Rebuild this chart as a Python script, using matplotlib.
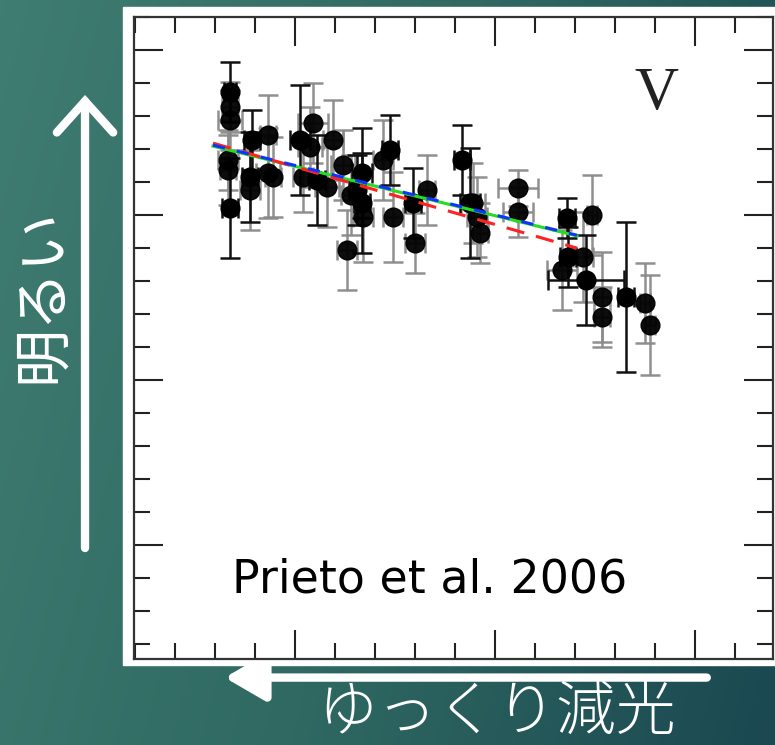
import matplotlib.pyplot as plt
import matplotlib.patches as mpatches
from matplotlib.colors import LinearSegmentedColormap
import numpy as np

# datos (dias, magnitud V)
x_black = [23.75, 23.75, 29.25, 28.75, 41.25, 45.5, 56.75, 56.75, 63.75, 69.5,
           81.75, 83.75, 108.0, 108.25, 112.75, 122.75, 55.5]
y_black = [15.127, 15.479, 15.273, 15.385, 15.273, 15.394, 15.373, 15.464, 15.303, 15.464,
           15.333, 15.464, 15.509, 15.627, 15.697, 15.748, 15.424]
yerr_black = [0.091, 0.152, 0.091, 0.136, 0.167, 0.136, 0.136, 0.152, 0.106, 0.106,
              0.106, 0.167, 0.061, 0.091, 0.136, 0.227, 0.106]
xerr_black = [1.5, 2, 2, 2, 2.5, 2, 2.5, 2, 2, 2,
              2, 2.5, 2, 2, 9.5, 2, 2]

x_gray = [23.75, 23.75, 23.25, 23.25, 33.25, 28.75, 33.25, 34.5, 44.5, 43.75,
          49.5, 42.0, 48.0, 52.0, 53.0, 57.0, 62.0, 64.5, 70.0, 73.0,
          85.5, 86.25, 84.5, 95.75, 95.75, 106.75, 112.0, 114.25, 116.75, 116.75,
          127.5, 128.75, 54.0]
y_gray = [15.173, 15.212, 15.333, 15.364, 15.258, 15.424, 15.373, 15.385, 15.221, 15.294,
          15.273, 15.385, 15.415, 15.348, 15.606, 15.506, 15.333, 15.506, 15.585, 15.424,
          15.506, 15.555, 15.464, 15.418, 15.491, 15.667, 15.627, 15.5, 15.748, 15.809,
          15.767, 15.833, 15.439]
yerr_gray = [0.076, 0.091, 0.091, 0.106, 0.121, 0.121, 0.136, 0.121, 0.121, 0.121,
             0.121, 0.106, 0.121, 0.106, 0.121, 0.136, 0.121, 0.136, 0.091, 0.106,
             0.121, 0.091, 0.121, 0.055, 0.076, 0.121, 0.136, 0.121, 0.136, 0.091,
             0.121, 0.152, 0.121]
xerr_gray = [2, 3, 2.5, 2, 2, 2.5, 3, 2, 3.75, 3,
             2.5, 2.5, 3, 3, 2.5, 2.5, 2.5, 2.5, 2.5, 2,
             2.5, 2, 3, 5, 3.75, 3.75, 2.5, 1.25, 2, 2,
             1.25, 1.25, 2.5]

# rectas de ajuste (extremos)
fit_x = [19.5, 110.5]
fit_blue = [15.288, 15.561]
fit_green = [15.291, 15.563]
fit_red = [15.282, 15.600]

x_major = [40, 90, 140]
y_major = [15.0, 15.5, 16.0, 16.5]

fig = plt.figure(figsize=(7.75, 7.45), dpi=100)

# fondo degradado
bg = fig.add_axes([0, 0, 1, 1], zorder=-10)
cmap = LinearSegmentedColormap.from_list('fondo', ['#3f7c71', '#2f6962', '#1b4851'])
gx, gy = np.meshgrid(np.linspace(0, 1, 200), np.linspace(0, 1, 200))
bg.imshow(0.8 * gx + 0.2 * gy, cmap=cmap, aspect='auto', extent=[0, 1, 0, 1], origin='upper')
bg.set_xlim(0, 1)
bg.set_ylim(0, 1)
bg.axis('off')

bg.add_patch(mpatches.Rectangle((0.1587, 0.1074), 0.85, 0.8832, color='white', zorder=2))

# flechas y textos en japones
bg.annotate('', xy=(0.290, 0.0905), xytext=(0.912, 0.0905),
            arrowprops=dict(arrowstyle='-|>,head_length=0.55,head_width=0.32', color='white',
                            lw=6, capstyle='round', mutation_scale=45, shrinkA=0, shrinkB=0))
bg.annotate('', xy=(0.1097, 0.8725), xytext=(0.1097, 0.2644),
            arrowprops=dict(arrowstyle='->,head_length=0.5,head_width=0.45', color='white',
                            lw=6, capstyle='round', joinstyle='miter', mutation_scale=45,
                            shrinkA=0, shrinkB=0))
bg.text(0.641, 0.043, 'ゆっくり減光', ha='center', va='center', fontsize=43,
        family=['Noto Sans CJK JP', 'DejaVu Sans'], color='white', fontweight='light')
bg.text(0.054, 0.604, '明るい', ha='center', va='center', fontsize=42, rotation=90,
        family=['Noto Sans CJK JP', 'DejaVu Sans'], color='white')

ax = fig.add_axes([0.1729, 0.1154, 0.8245, 0.8617])
ax.set_facecolor('white')

ax.errorbar(x_gray, y_gray, yerr=yerr_gray, xerr=xerr_gray, fmt='o', color='black',
            ecolor='#8a8a8a', elinewidth=1.8, capsize=7, capthick=1.8, markersize=13.5, alpha=0.95)
ax.errorbar(x_black, y_black, yerr=yerr_black, xerr=xerr_black, fmt='o', color='black',
            ecolor='#111111', elinewidth=1.8, capsize=7, capthick=1.8, markersize=13.5)

ax.plot(fit_x, fit_green, color='#22dd22', lw=2.2, zorder=5)
ax.plot(fit_x, fit_blue, color='#1133ff', lw=2.2, ls=(0, (4, 4)), zorder=6)
ax.plot(fit_x, fit_red, color='#ff2222', lw=2.2, ls=(0, (6, 4)), zorder=5)

ax.set_xlim(-0.25, 159.5)
ax.set_ylim(16.845, 14.9)
ax.set_xticks(x_major)
ax.set_xticks(np.arange(0, 160, 10), minor=True)
ax.set_yticks(y_major)
ax.set_yticks(np.arange(14.9, 16.85, 0.1), minor=True)
ax.tick_params(which='both', direction='in', top=True, right=True,
               labelbottom=False, labelleft=False, color='#222222', width=1.5)
ax.tick_params(which='major', length=21)
ax.tick_params(which='minor', length=11.5)
for s in ax.spines.values():
    s.set_linewidth(1.6)
    s.set_color('#333333')

ax.text(0.818, 0.879, 'V', transform=ax.transAxes, ha='center', va='center',
        fontsize=44, family='Liberation Serif', color='#222222')
ax.text(0.463, 0.123, 'Prieto et al. 2006', transform=ax.transAxes, ha='center', va='center',
        fontsize=33, family='DejaVu Sans', color='black')

plt.savefig('out.png', dpi=100)
